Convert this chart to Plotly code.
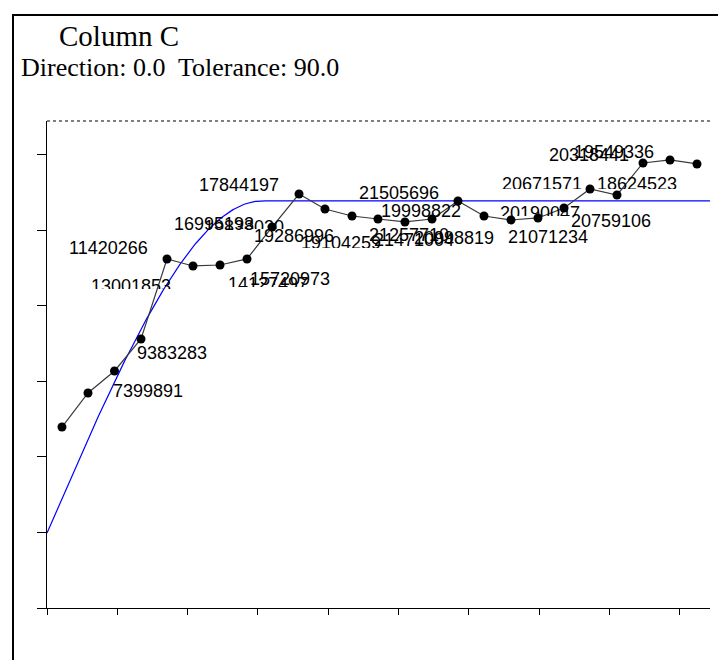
import plotly.graph_objects as go

# ---------------- data ----------------
lag = [0.213, 0.583, 0.960, 1.337, 1.707, 2.077, 2.461, 2.845, 3.201, 3.585,
       3.954, 4.339, 4.708, 5.092, 5.477, 5.846, 6.216, 6.600, 6.984, 7.354,
       7.724, 8.108, 8.478, 8.862, 9.246]
gamma = [2.397, 2.848, 3.139, 3.563, 4.623, 4.530, 4.543, 4.623, 5.046, 5.483,
         5.285, 5.192, 5.152, 5.113, 5.152, 5.391, 5.192, 5.139, 5.166, 5.298,
         5.550, 5.470, 5.894, 5.934, 5.881]
pair_labels = ["", "", "7399891", "9383283", "11420266", "13001853", "14127497",
               "15720973", "16995193", "17844197", "19838030", "19286996",
               "19104259", "21257710", "21471004", "21505696", "19998822",
               "20998819", "21071234", "20190047", "20671571", "18624523",
               "20759106", "20318441", "19549336"]

# spherical model parameters
nugget = 0.993
sill = 5.391
model_range = 3.06

x_ticks = [0, 1, 2, 3, 4, 5, 6, 7, 8, 9]
y_ticks = [0, 1, 2, 3, 4, 5, 6]
x_max = 9.431
y_max = 6.450

title_line1 = "Column C"
title_line2 = "Direction: 0.0  Tolerance: 90.0"

# ---------------- label placement (pixels) ----------------
# (dx, dy_up, clip_height) ; clip_height 0 => unclipped (dy is center offset),
# otherwise dy is offset of the box top and the box is clipped to that height
label_pos = [
    (0, 0, 0), (0, 0, 0),
    (34, -20, 0), (31, -14, 0), (-59, 11, 0), (-62, -9, 13), (48, -8, 13),
    (43, -20, 0), (-58, 3, 0), (-60, 9, 0), (-81, -7, 12), (-58, -20, 0),
    (-37, -13, 15), (4, -13, 0), (-18, -21, 0), (-59, 8, 0), (-63, 5, 0),
    (-57, -18, 0), (10, -19, 0), (-24, 6, 13), (-48, 16, 15), (20, 22, 15),
    (-32, -58, 0), (-81, 5, 0), (-83, 12, 0),
]

# model curve
n = 400
mx = [x_max * i / n for i in range(n + 1)]
my = []
for h in mx:
    if h < model_range:
        r = h / model_range
        my.append(nugget + (sill - nugget) * (1.5 * r - 0.5 * r ** 3))
    else:
        my.append(sill)

W, H = 718, 660
L, R, T, B = 47, 8, 121, 52
pw, ph = W - L - R, H - T - B


def px_x(px):
    return (px - L) / pw


def px_y(py):
    return (H - B - py) / ph


fig = go.Figure()
fig.add_trace(go.Scatter(x=mx, y=my, mode="lines",
                         line=dict(color="#0000ff", width=1.2),
                         hoverinfo="skip", showlegend=False))
fig.add_trace(go.Scatter(x=lag, y=gamma, mode="lines+markers",
                         line=dict(color="#3a3a3a", width=1.2),
                         marker=dict(color="black", size=9),
                         showlegend=False))

label_font = dict(family="Liberation Sans, Arial", size=18, color="black")
annotations = []
for xi, yi, txt, (dx, dy, ch) in zip(lag, gamma, pair_labels, label_pos):
    if not txt:
        continue
    if ch:
        annotations.append(dict(x=xi, y=yi, xref="x", yref="y", text=txt,
                                showarrow=False, font=label_font,
                                xanchor="center", yanchor="top",
                                xshift=dx, yshift=dy, height=ch,
                                valign="top", borderpad=0))
    else:
        annotations.append(dict(x=xi, y=yi, xref="x", yref="y", text=txt,
                                showarrow=False, font=label_font,
                                xanchor="center", yanchor="middle",
                                xshift=dx, yshift=dy))

title_font1 = dict(family="Liberation Serif, Times New Roman", size=29, color="black")
title_font2 = dict(family="Liberation Serif, Times New Roman", size=26, color="black")
annotations.append(dict(x=px_x(57), y=px_y(36), xref="paper", yref="paper",
                        text=title_line1, showarrow=False, font=title_font1,
                        xanchor="left", yanchor="middle"))
annotations.append(dict(x=px_x(19), y=px_y(67), xref="paper", yref="paper",
                        text=title_line2, showarrow=False, font=title_font2,
                        xanchor="left", yanchor="middle"))

shapes = [
    # dotted top border of plot area
    dict(type="line", xref="paper", yref="paper", x0=0, x1=1, y0=1, y1=1,
         line=dict(color="black", width=1, dash="dot")),
    # outer frame
    dict(type="rect", xref="paper", yref="paper",
         x0=px_x(13), x1=px_x(740), y0=px_y(15), y1=px_y(700),
         line=dict(color="black", width=2)),
]

fig.update_layout(
    width=W, height=H, autosize=False,
    margin=dict(l=L, r=R, t=T, b=B, pad=0),
    paper_bgcolor="white", plot_bgcolor="white",
    xaxis=dict(range=[0, x_max], tickvals=x_ticks, showticklabels=False,
               ticks="outside", ticklen=6, tickcolor="black", tickwidth=1,
               showline=True, linecolor="black", linewidth=1,
               showgrid=False, zeroline=False, fixedrange=True),
    yaxis=dict(range=[0, y_max], tickvals=y_ticks, showticklabels=False,
               ticks="outside", ticklen=9, tickcolor="black", tickwidth=1,
               showline=True, linecolor="black", linewidth=1,
               showgrid=False, zeroline=False, fixedrange=True),
    annotations=annotations,
    shapes=shapes,
    showlegend=False,
)

fig.write_html("out.html", config={"displayModeBar": False})
